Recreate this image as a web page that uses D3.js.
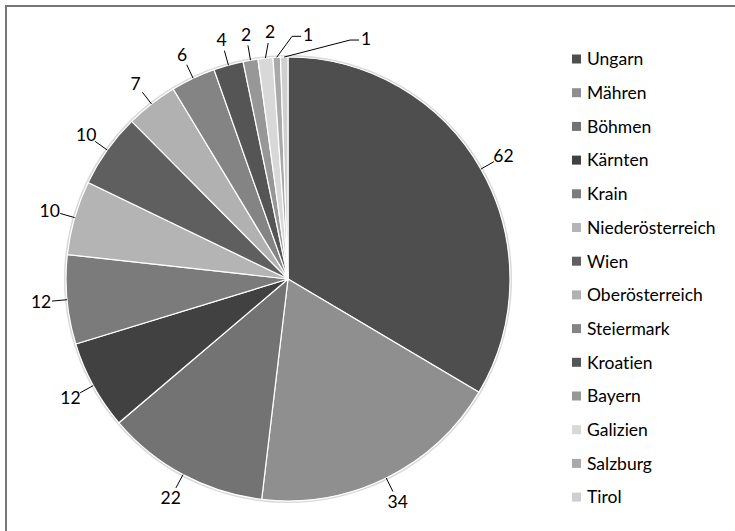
<!DOCTYPE html>
<html lang="de">
<head>
    <meta charset="UTF-8">
    <title>Herkunft</title>
    <script src="https://d3js.org/d3.v7.min.js"></script>
    <style>
        body { margin: 0; background: #fff; }
        text { font-family: Lato, "Open Sans", sans-serif; font-size: 17.5px; fill: #000;
               font-variant-ligatures: none; }
    </style>
</head>
<body>

<script>
    // data (clockwise from 12 o'clock)
    regions = ["Ungarn", "Mähren", "Böhmen", "Kärnten", "Krain", "Niederösterreich", "Wien",
               "Oberösterreich", "Steiermark", "Kroatien", "Bayern", "Galizien", "Salzburg", "Tirol"]
    counts = [62, 34, 22, 12, 12, 10, 10, 7, 6, 4, 2, 2, 1, 1]
    greys = ["#4e4e4e", "#8f8f8f", "#737373", "#414141", "#7b7b7b", "#b4b4b4", "#5f5f5f",
             "#b1b1b1", "#848484", "#555555", "#979797", "#d8d8d8", "#a9a9a9", "#cfcfcf"]

    // chart dimensions
    w = 735
    h = 531
    cx = 288
    cy = 279
    radius = 222

    svg = d3.select("body")
        .append("svg")
        .attr("width", w)
        .attr("height", h)

    // frame (only top and left edge visible)
    svg.append("path")
        .attr("d", "M6," + h + "V6H" + w)
        .attr("fill", "none")
        .attr("stroke", "#767676")
        .attr("stroke-width", 2)

    color = d3.scaleOrdinal().domain(regions).range(greys)

    pie = d3.pie().sort(null).value(d => d.v)
    data = regions.map((r, i) => ({name: r, v: counts[i]}))
    arcs = pie(data)

    arc = d3.arc().innerRadius(0).outerRadius(radius)

    g = svg.append("g").attr("transform", "translate(" + cx + "," + cy + ")")

    // soft outline behind the pie
    g.append("circle")
        .attr("r", radius + 1)
        .attr("fill", "none")
        .attr("stroke", "#d9d9d9")
        .attr("stroke-width", 2)

    g.selectAll("path.slice")
        .data(arcs)
        .join("path")
        .attr("class", "slice")
        .attr("d", arc)
        .attr("fill", d => color(d.data.name))
        .attr("stroke", "#fff")
        .attr("stroke-width", 1.2)

    // label layout: on a ring outside the pie, then push crowded ones apart
    labelR = radius + 26
    labels = arcs.map(a => {
        let m = (a.startAngle + a.endAngle) / 2
        return {
            a: a, m: m,
            ax: Math.sin(m) * radius, ay: -Math.cos(m) * radius,
            x: Math.sin(m) * labelR, y: -Math.cos(m) * labelR
        }
    })

    // top cluster: keep labels at least 24px apart horizontally
    const topLabels = labels.filter(l => l.y < -radius + 10).sort((p, q) => p.x - q.x)
    for (let i = 1; i < topLabels.length; i++) {
        if (topLabels[i].x - topLabels[i - 1].x < 24) {
            topLabels[i].x = topLabels[i - 1].x + 24
            topLabels[i].pushed = true
        }
    }
    // the last crowded ones sit a bit further out, like the original
    topLabels.filter(l => l.pushed).forEach((l, i) => {
        if (i > 0) {
            l.x += 14 * i
            l.y += 4 * i
            if (i == topLabels.filter(q => q.pushed).length - 1) l.x += 20
        }
    })

    lg = g.append("g")

    lg.selectAll("path.leader")
        .data(labels)
        .join("path")
        .attr("class", "leader")
        .attr("fill", "none")
        .attr("stroke", "#000")
        .attr("stroke-width", 1)
        .attr("d", l => {
            if (l.pushed && l.x - l.ax > 14) {
                return "M" + l.ax + "," + l.ay + "L" + (l.x - 16) + "," + (l.y + 1) + "H" + (l.x - 7)
            }
            let dx = l.x - l.ax
            let dy = l.y - l.ay
            let len = Math.sqrt(dx * dx + dy * dy)
            return "M" + l.ax + "," + l.ay + "L" + (l.ax + dx * (len - 11) / len) + "," + (l.ay + dy * (len - 11) / len)
        })

    lg.selectAll("text.val")
        .data(labels)
        .join("text")
        .attr("class", "val")
        .attr("x", l => l.x)
        .attr("y", l => l.y)
        .attr("dy", "0.35em")
        .attr("text-anchor", "middle")
        .text(l => l.a.data.v)

    // legend
    legend = svg.append("g").attr("transform", "translate(572,59)")
    item = legend.selectAll("g")
        .data(regions)
        .join("g")
        .attr("transform", (d, i) => "translate(0," + (i * 33.7) + ")")

    item.append("rect")
        .attr("x", 0)
        .attr("y", -4.5)
        .attr("width", 9)
        .attr("height", 9)
        .attr("fill", d => color(d))

    item.append("text")
        .attr("x", 15)
        .attr("dy", "0.36em")
        .text(d => d)
</script>

</body>
</html>
